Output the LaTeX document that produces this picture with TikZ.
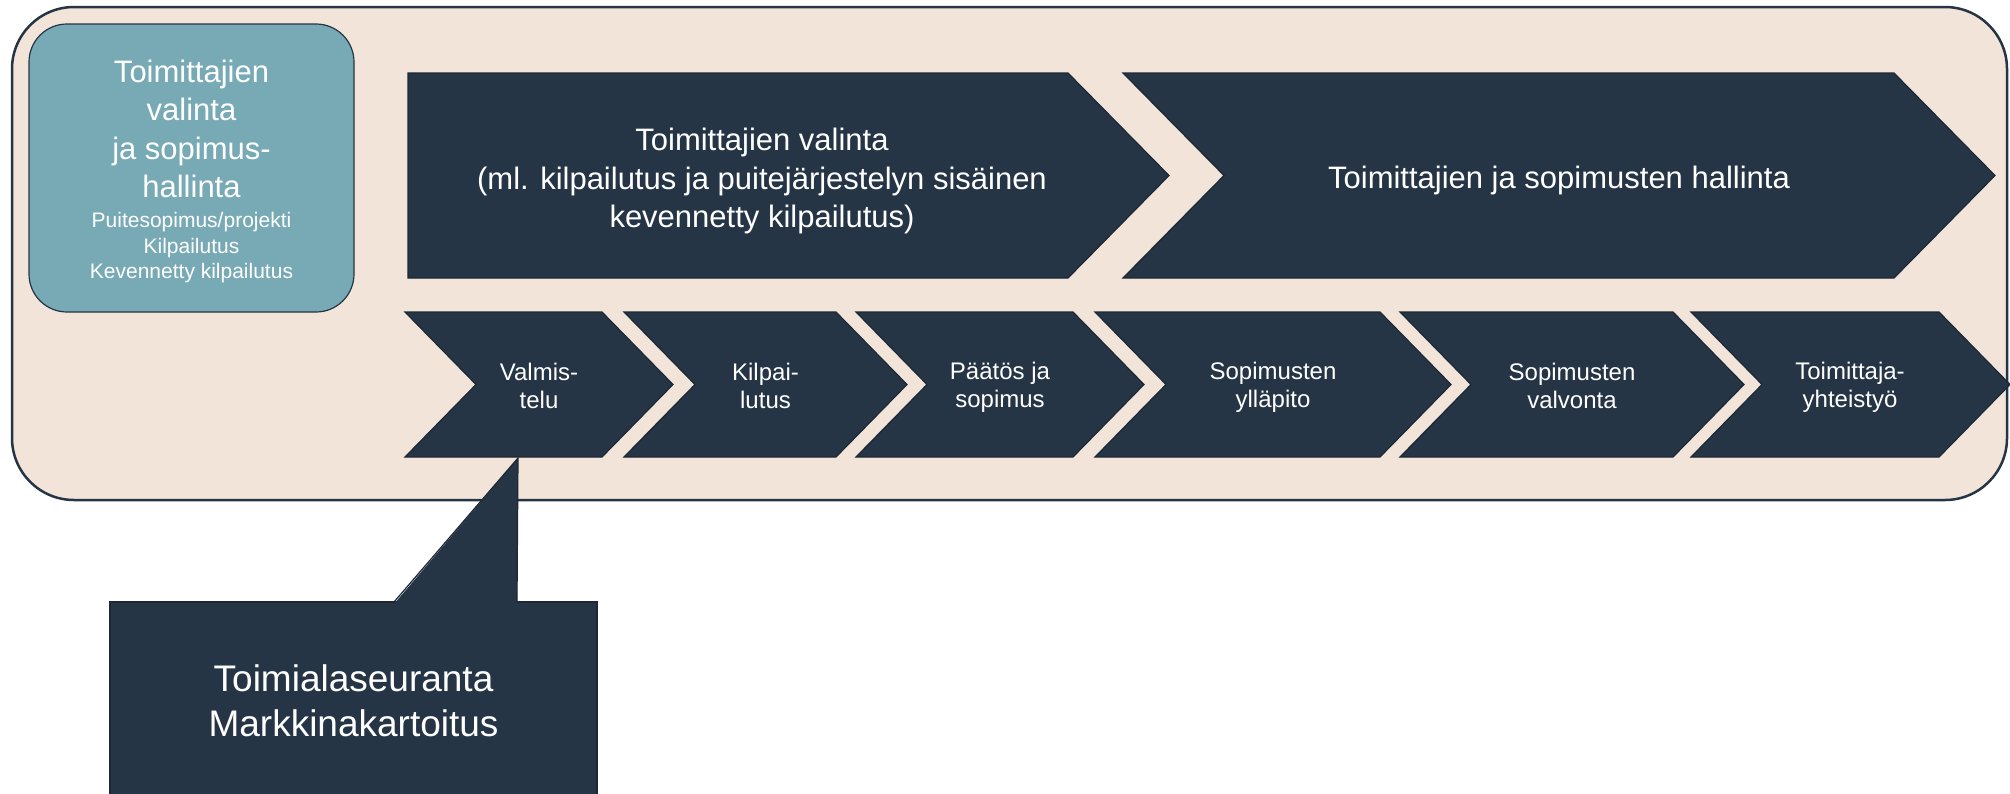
\documentclass[tikz,border=0pt]{standalone}
\usepackage{fontspec}
\setmainfont{Liberation Sans}
\usepackage{xcolor}
\usetikzlibrary{calc}

\definecolor{beige}{HTML}{F2E4D8}
\definecolor{navy}{HTML}{253546}
\definecolor{tealbox}{HTML}{78AAB6}

\begin{document}
\begin{tikzpicture}[x=1pt, y=-1pt, line join=miter,
    frame/.style = {draw=navy, line width=2.5pt, fill=beige, rounded corners=62pt},
    chev/.style = {draw=navy!75!black, line width=1.2pt, fill=navy},
    big/.style = {text=white, align=center, inner sep=0pt, font=\fontsize{31}{38.5}\selectfont},
    small/.style = {text=white, align=center, inner sep=0pt, font=\fontsize{24}{28}\selectfont},
    sub/.style = {text=white, align=center, inner sep=0pt, font=\fontsize{21}{25.5}\selectfont}]
                \useasboundingbox (0,0) rectangle (2010,793);
                \clip (0,0) rectangle (2010,793);

                % Frame
                \draw[frame] (12,7) rectangle (2007,500);

                % Nodes
                \node[draw=navy, line width=1.2pt, fill=tealbox, rounded corners=38pt,
                      minimum width=325pt, minimum height=288pt] (laatikko) at (191.5,168) {};
                \node[big] (otsikko) at (191.5,129) {Toimittajien\\valinta\\ja sopimus-\\hallinta};
                \node[sub] (tarkenne) at (191.5,248) {Puitesopimus/projekti\\Kilpailutus\\Kevennetty kilpailutus};

                % Big chevrons
                \filldraw[chev] (408,73) -- (1068,73) -- (1169,175.5) -- (1068,278) -- (408,278) -- cycle;
                \filldraw[chev] (1123,73) -- (1894,73) -- (1995,175.5) -- (1894,278) -- (1123,278) -- (1224,175.5) -- cycle;
                \node[big] (valinta) at (762,181) {Toimittajien valinta\\(ml. kilpailutus ja puitejärjestelyn sisäinen\\kevennetty kilpailutus)};
                \node[big] (hallinta) at (1559,180) {Toimittajien ja sopimusten hallinta};

                % Small chevrons
                \filldraw[chev] (405,312) -- (602,312) -- (673,384.5) -- (602,457) -- (405,457) -- (476,384.5) -- cycle;
                \filldraw[chev] (624,312) -- (836,312) -- (907,384.5) -- (836,457) -- (624,457) -- (695,384.5) -- cycle;
                \filldraw[chev] (856,312) -- (1073,312) -- (1144,384.5) -- (1073,457) -- (856,457) -- (927,384.5) -- cycle;
                \filldraw[chev] (1095,312) -- (1380,312) -- (1451,384.5) -- (1380,457) -- (1095,457) -- (1166,384.5) -- cycle;
                \filldraw[chev] (1400,312) -- (1673,312) -- (1744,384.5) -- (1673,457) -- (1400,457) -- (1471,384.5) -- cycle;
                \filldraw[chev] (1691,312) -- (1939,312) -- (2010,384.5) -- (1939,457) -- (1691,457) -- (1762,384.5) -- cycle;
                \node[small] (valmistelu) at (539,385.5) {Valmis-\\telu};
                \node[small] (kilpailutus) at (765.5,385.5) {Kilpai-\\lutus};
                \node[small] (paatos) at (1000,387) {Päätös ja\\sopimus};
                \node[small] (yllapito) at (1273,387) {Sopimusten\\ylläpito};
                \node[small] (valvonta) at (1572,385.5) {Sopimusten\\valvonta};
                \node[small] (yhteistyo) at (1850,387) {Toimittaja-\\yhteistyö};

                % Callout
                \node[draw=navy!75!black, line width=1.2pt, fill=navy, text=white, align=center,
                      font=\fontsize{37}{45}\selectfont, minimum width=487pt, minimum height=198pt]
                      (seuranta) at (353.5,701) {Toimialaseuranta\\Markkinakartoitus};
                \coordinate (karki) at (518,458);
                \coordinate (kanta1) at (394,602);
                \coordinate (kanta2) at (517,602);
                \fill[navy] ($(kanta1)+(0,2)$) -- (karki) -- ($(kanta2)+(0,2)$) -- cycle;
                \draw[navy!75!black, line width=1.2pt] (kanta1) -- (karki) -- (kanta2);
\end{tikzpicture}
\end{document}
